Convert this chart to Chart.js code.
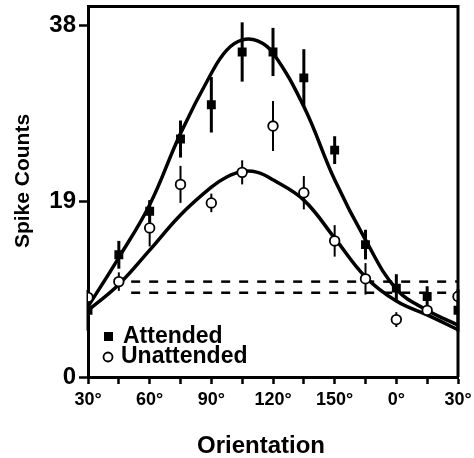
<!DOCTYPE html>
<html>
<head>
<meta charset="utf-8">
<script src="https://cdn.jsdelivr.net/npm/chart.js@4/dist/chart.umd.min.js"></script>
<style>
  html, body { margin: 0; padding: 0; background: #fff; }
  #wrap { width: 474px; height: 458px; position: relative; }
</style>
</head>
<body>
<div id="wrap"><canvas id="c" width="474" height="458"></canvas></div>
<script>
// ---- data ----
const orientations = [30, 45, 60, 75, 90, 105, 120, 135, 150, 165, 180, 195, 210];
const attended      = [7.2, 13.2, 17.9, 25.7, 29.4, 35.1, 35.1, 32.3, 24.5, 14.3, 9.6, 8.7, 7.2];
const attendedErr   = [2.2, 1.5, 1.2, 2.0, 3.0, 3.2, 2.6, 3.1, 1.5, 1.6, 1.5, 1.1, 2.3];
const unattended    = [8.6, 10.3, 16.1, 20.8, 18.8, 22.1, 27.1, 19.9, 14.7, 10.6, 6.2, 7.2, 8.7];
const unattendedErr = [0.6, 1.0, 2.0, 2.0, 1.0, 1.3, 2.7, 1.8, 1.7, 1.7, 0.8, 0.5, 0.6];

const fitX          = [30, 45, 60, 75, 90, 97.5, 105, 112.5, 120, 135, 150, 165, 180, 195, 210];
const attendedFit   = [7.6, 12.9, 18.6, 26.3, 32.8, 35.3, 36.4, 36.3, 35.0, 29.2, 21.3, 14.8, 9.5, 7.2, 5.6];
const unattendedFit = [7.2, 10.0, 13.7, 17.5, 20.5, 21.6, 22.2, 22.1, 21.3, 19.1, 15.0, 10.8, 8.2, 6.7, 5.1];

const baselineLevels = [10.3, 9.1];
const baselineX      = [51, 210];

const xTickValues = [30, 45, 60, 75, 90, 105, 120, 135, 150, 165, 180, 195, 210];
const xTickLabels = ['30°', '', '60°', '', '90°', '', '120°', '', '150°', '', '0°', '', '30°'];
const yTickValues = [0, 19, 38];
const yTickLabels = ['0', '19', '38'];

const seriesNames = ['Attended', 'Unattended'];
const xTitle = 'Orientation';
const yTitle = 'Spike Counts';

// ---- build ----
const FONT = '"Liberation Sans", Arial, Helvetica, sans-serif';
const pts = (xs, ys) => xs.map((x, i) => ({ x: x, y: ys[i] }));

const errorBars = {
  id: 'errorBars',
  beforeDatasetsDraw(chart) {
    const { ctx, scales: { x, y } } = chart;
    const sets = [
      { v: attended, e: attendedErr, w: 3 },
      { v: unattended, e: unattendedErr, w: 2 }
    ];
    ctx.save();
    ctx.strokeStyle = '#000';
    sets.forEach(s => {
      ctx.lineWidth = s.w;
      orientations.forEach((o, i) => {
        const px = x.getPixelForValue(o);
        ctx.beginPath();
        ctx.moveTo(px, y.getPixelForValue(s.v[i] - s.e[i]));
        ctx.lineTo(px, y.getPixelForValue(s.v[i] + s.e[i]));
        ctx.stroke();
      });
    });
    ctx.restore();
  }
};

const frame = {
  id: 'frame',
  afterDraw(chart) {
    const { ctx, chartArea: a } = chart;
    ctx.save();
    ctx.strokeStyle = '#000';
    ctx.lineWidth = 3;
    ctx.beginPath();
    ctx.moveTo(a.left, a.top);
    ctx.lineTo(a.right, a.top);
    ctx.lineTo(a.right, a.bottom);
    ctx.stroke();
    // legend
    ctx.fillStyle = '#000';
    ctx.font = 'bold 23px ' + FONT;
    ctx.textBaseline = 'middle';
    ctx.textAlign = 'left';
    ctx.fillRect(104, 332, 9, 9);
    ctx.fillText(seriesNames[0], 123, 337);
    ctx.beginPath();
    ctx.arc(108, 357, 4.5, 0, Math.PI * 2);
    ctx.fillStyle = '#fff';
    ctx.fill();
    ctx.lineWidth = 1.8;
    ctx.stroke();
    ctx.fillStyle = '#000';
    ctx.fillText(seriesNames[1], 121, 357);
    // axis titles
    ctx.font = 'bold 24px ' + FONT;
    ctx.textAlign = 'center';
    ctx.fillText(xTitle, 261, 446);
    ctx.save();
    ctx.translate(23, 181);
    ctx.rotate(-Math.PI / 2);
    ctx.font = 'bold 21px ' + FONT;
    ctx.fillText(yTitle, 0, 0);
    ctx.restore();
    ctx.restore();
  }
};

new Chart(document.getElementById('c'), {
  type: 'scatter',
  data: {
    datasets: [
      {
        label: seriesNames[0],
        data: pts(orientations, attended),
        pointStyle: 'rect', pointRadius: 6.3,
        backgroundColor: '#000', borderColor: '#000', borderWidth: 0,
        order: 1
      },
      {
        label: seriesNames[1],
        data: pts(orientations, unattended),
        pointStyle: 'circle', pointRadius: 4.8,
        backgroundColor: '#fff', borderColor: '#000', borderWidth: 1.8,
        order: 0
      },
      {
        label: 'attended fit', type: 'line',
        data: pts(fitX, attendedFit),
        showLine: true, pointRadius: 0, borderColor: '#000', borderWidth: 3.5,
        tension: 0.4, fill: false, order: 3
      },
      {
        label: 'unattended fit', type: 'line',
        data: pts(fitX, unattendedFit),
        showLine: true, pointRadius: 0, borderColor: '#000', borderWidth: 3.5,
        tension: 0.4, fill: false, order: 3
      },
      ...baselineLevels.map((lv, i) => ({
        label: 'baseline ' + (i + 1), type: 'line',
        data: baselineX.map(x => ({ x: x, y: lv })),
        showLine: true, pointRadius: 0, borderColor: '#000', borderWidth: 2.5,
        borderDash: [9, 9], fill: false, order: 4
      }))
    ]
  },
  options: {
    responsive: false,
    animation: false,
    layout: { padding: { top: 6, right: 16, left: 0, bottom: 0 } },
    plugins: { legend: { display: false }, tooltip: { enabled: false } },
    scales: {
      x: {
        type: 'linear', min: 30, max: 210,
        afterFit(s) { s.height = 81; s.paddingLeft = 0; s.paddingRight = 0; },
        afterBuildTicks(s) { s.ticks = xTickValues.map(v => ({ value: v })); },
        border: { display: true, color: '#000', width: 3 },
        grid: { drawOnChartArea: false, drawTicks: true, tickLength: 7, tickColor: '#000', tickWidth: 2.5 },
        ticks: {
          autoSkip: false, maxRotation: 0, padding: 5, color: '#000',
          font: { family: FONT, size: 18, weight: 'bold' },
          callback(v) { const i = xTickValues.indexOf(v); return i >= 0 ? xTickLabels[i] : ''; }
        }
      },
      y: {
        type: 'linear', min: 0, max: 40,
        afterFit(s) { s.width = 88; s.paddingTop = 0; s.paddingBottom = 0; },
        afterBuildTicks(s) { s.ticks = yTickValues.map(v => ({ value: v })); },
        border: { display: true, color: '#000', width: 3 },
        grid: { drawOnChartArea: false, drawTicks: true, tickLength: 9, tickColor: '#000', tickWidth: 2.5 },
        ticks: {
          padding: 3, color: '#000',
          font: { family: FONT, size: 24, weight: 'bold' },
          callback(v) { const i = yTickValues.indexOf(v); return i >= 0 ? yTickLabels[i] : ''; }
        }
      }
    }
  },
  plugins: [errorBars, frame]
});
</script>
</body>
</html>
